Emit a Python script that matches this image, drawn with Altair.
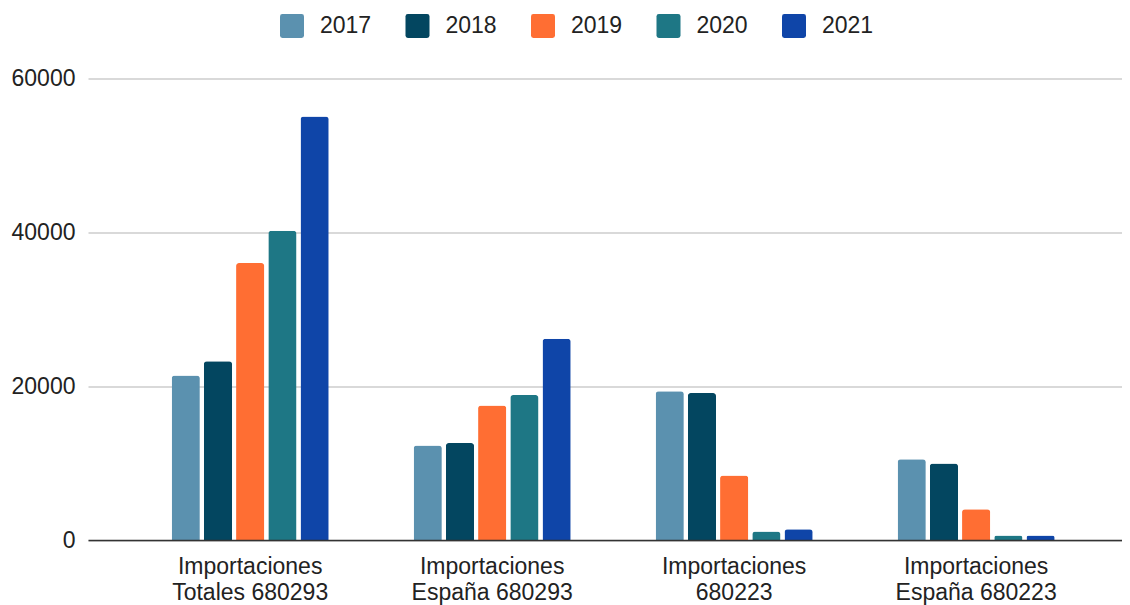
import altair as alt
import pandas as pd

categories = [
    "Importaciones\nTotales 680293",
    "Importaciones\nEspaña 680293",
    "Importaciones\n680223",
    "Importaciones\nEspaña 680223",
]
years = ["2017", "2018", "2019", "2020", "2021"]
v2017 = [21400, 12300, 19350, 10500]
v2018 = [23250, 12600, 19100, 9950]
v2019 = [36000, 17500, 8400, 4000]
v2020 = [40200, 18850, 1100, 600]
v2021 = [55050, 26150, 1400, 600]
colors = ["#5B91AF", "#034660", "#FF6E33", "#1E7785", "#0F45A8"]

rows = []
for y, vals in zip(years, [v2017, v2018, v2019, v2020, v2021]):
    for c, v in zip(categories, vals):
        rows.append({"categoria": c, "anio": y, "valor": v})
df = pd.DataFrame(rows)

rounded_square = ("M -0.8,-1 H 0.8 Q 1,-1 1,-0.8 V 0.8 Q 1,1 0.8,1 H -0.8 "
                  "Q -1,1 -1,0.8 V -0.8 Q -1,-1 -0.8,-1 Z")

chart = alt.Chart(df).mark_bar(cornerRadiusTopLeft=3, cornerRadiusTopRight=3).encode(
    x=alt.X(
        "categoria:N",
        sort=categories,
        scale=alt.Scale(paddingInner=0.351, paddingOuter=0.312, align=0.554),
        axis=alt.Axis(
            title=None, labelAngle=0,
            labelExpr="split(datum.label, '\\n')",
            labelFontSize=23, labelColor="#222222", labelPadding=15,
            labelLineHeight=26.5, ticks=False, domainColor="#333333",
            domainWidth=1.5, grid=False, zindex=1,
        ),
    ),
    xOffset=alt.XOffset("anio:N", sort=years,
                        scale=alt.Scale(paddingInner=0.125, paddingOuter=0)),
    y=alt.Y(
        "valor:Q",
        scale=alt.Scale(domain=[0, 60000], nice=False),
        axis=alt.Axis(
            title=None, values=[0, 20000, 40000, 60000], format="d",
            labelFontSize=23, labelColor="#222222", labelPadding=13,
            ticks=False, domain=False, gridColor="#cccccc", gridWidth=1.3,
        ),
    ),
    color=alt.Color(
        "anio:N", sort=years,
        scale=alt.Scale(domain=years, range=colors),
        legend=alt.Legend(
            title=None, orient="none", legendX=192, legendY=-64.5,
            direction="horizontal", symbolType=rounded_square, symbolSize=576,
            labelFontSize=23, labelColor="#222222", labelOffset=16,
            columnPadding=33.5, symbolStrokeWidth=0, padding=0,
        ),
    ),
).properties(
    width=1034, height=461.5,
    autosize=alt.AutoSizeParams(type="none"),
    padding={"left": 80, "top": 70.5, "right": 0, "bottom": 70},
).configure(font="Liberation Sans").configure_view(stroke=None)

chart.save("out.html", embed_options={"renderer": "svg", "actions": False})
